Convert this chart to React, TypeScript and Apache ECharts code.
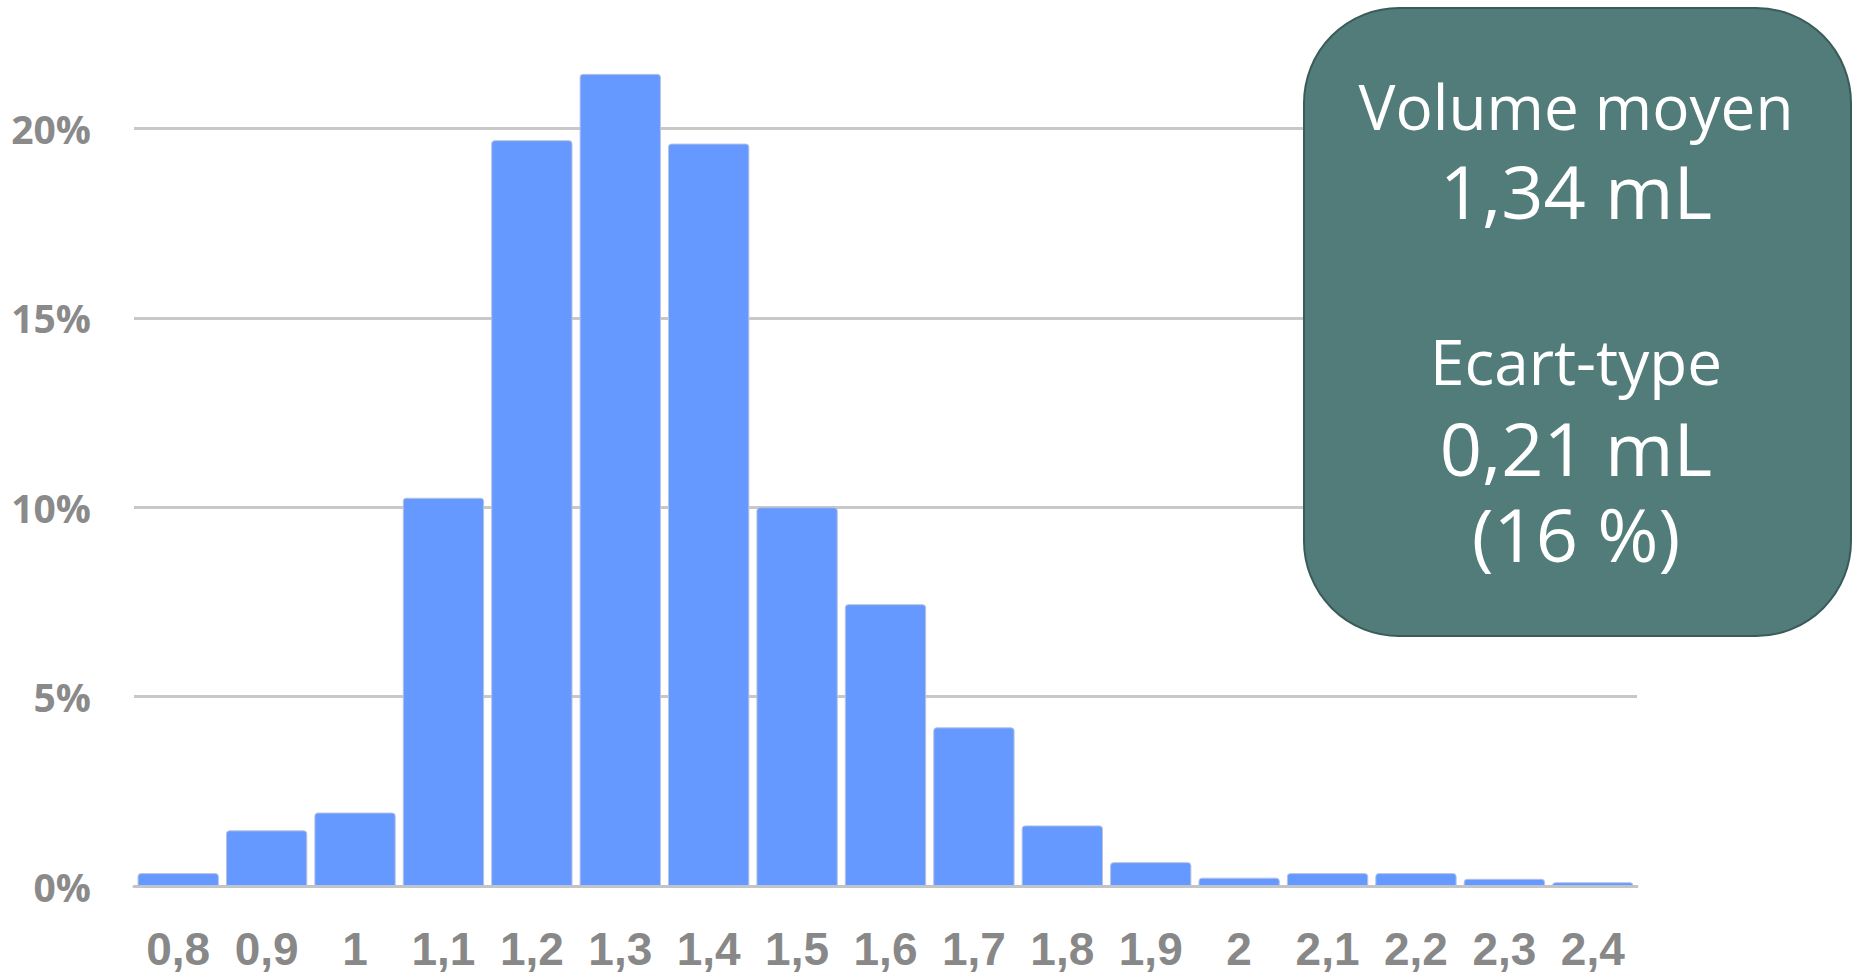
import React, { useEffect, useRef } from "react";
import * as echarts from "echarts";

const categories = ["0,8", "0,9", "1", "1,1", "1,2", "1,3", "1,4", "1,5", "1,6", "1,7", "1,8", "1,9", "2", "2,1", "2,2", "2,3", "2,4"];
const shares = [0.0034, 0.0147, 0.0194, 0.1025, 0.1969, 0.2144, 0.196, 0.1, 0.0744, 0.0419, 0.016, 0.0063, 0.0022, 0.0034, 0.0034, 0.0019, 0.001];
const yTicks = [0, 0.05, 0.1, 0.15, 0.2, 0.25];
const meanLines = ["Volume moyen", "1,34 mL"];
const sdLines = ["Ecart-type", "0,21 mL", "(16 %)"];

const OFFSET = 61; // chart div starts above the page so that the 25% line is hidden

export default function App() {
  const ref = useRef<HTMLDivElement>(null);
  useEffect(() => {
    if (!ref.current) return;
    const chart = echarts.init(ref.current, null, { renderer: "svg" });
    const boxFont = "'Open Sans', 'Noto Sans', sans-serif";
    const rich = {
      a: { fontSize: 62, lineHeight: 84, fill: "#ffffff", fontFamily: boxFont },
      b: { fontSize: 74, lineHeight: 84, fill: "#ffffff", fontFamily: boxFont },
      c: { fontSize: 62, lineHeight: 86, fill: "#ffffff", fontFamily: boxFont },
      d: { fontSize: 74, lineHeight: 86, fill: "#ffffff", fontFamily: boxFont },
    };
    chart.setOption({
      animation: false,
      backgroundColor: "#ffffff",
      grid: { left: 134, right: 220, top: 0, bottom: 88, containLabel: false, outerBoundsMode: "none" },
      xAxis: {
        type: "category",
        data: categories,
        axisTick: { show: false },
        axisLine: { show: true, lineStyle: { color: "#c4c4c4", width: 3 } },
        axisLabel: {
          color: "#888888",
          fontFamily: "'Liberation Sans Narrow', 'Liberation Sans', sans-serif",
          fontWeight: "bold",
          fontSize: 46,
          lineHeight: 40,
          margin: 43,
          interval: 0,
        },
      },
      yAxis: {
        type: "value",
        min: yTicks[0],
        max: yTicks[yTicks.length - 1],
        interval: 0.05,
        axisLine: { show: false },
        axisTick: { show: false },
        splitLine: { show: true, lineStyle: { color: "#c8c8c8", width: 3 } },
        axisLabel: {
          color: "#8a8a8a",
          fontFamily: "'Open Sans', 'Liberation Sans', sans-serif",
          fontWeight: "bold",
          fontSize: 39,
          margin: 43,
          showMaxLabel: false,
          formatter: (v: number) => `${Math.round(v * 100)}%`,
        },
      },
      series: [
        {
          type: "bar",
          data: shares,
          barCategoryGap: "8%",
          itemStyle: { color: "#6699ff", borderRadius: [3, 3, 0, 0], borderColor: "#b8c4dc", borderWidth: 1 },
        },
      ],
      graphic: [
        {
          type: "rect",
          left: 1303,
          top: 7 + OFFSET,
          shape: { width: 547, height: 628, r: 95 },
          style: { fill: "#517c79", stroke: "#3a5c59", lineWidth: 2 },
          z: 10,
        },
        {
          type: "text",
          x: 1576,
          y: 148 + OFFSET,
          z: 11,
          style: {
            text: `{a|${meanLines[0]}}\n{b|${meanLines[1]}}`,
            rich,
            textAlign: "center",
            textVerticalAlign: "middle",
          },
        },
        {
          type: "text",
          x: 1576,
          y: 447 + OFFSET,
          z: 11,
          style: {
            text: `{c|${sdLines[0]}}\n{d|${sdLines[1]}}\n{d|${sdLines[2]}}`,
            rich,
            textAlign: "center",
            textVerticalAlign: "middle",
          },
        },
      ],
    });
    return () => chart.dispose();
  }, []);
  return <div ref={ref} style={{ position: "absolute", left: 0, top: -OFFSET, width: 1857, height: 974 + OFFSET }} />;
}
